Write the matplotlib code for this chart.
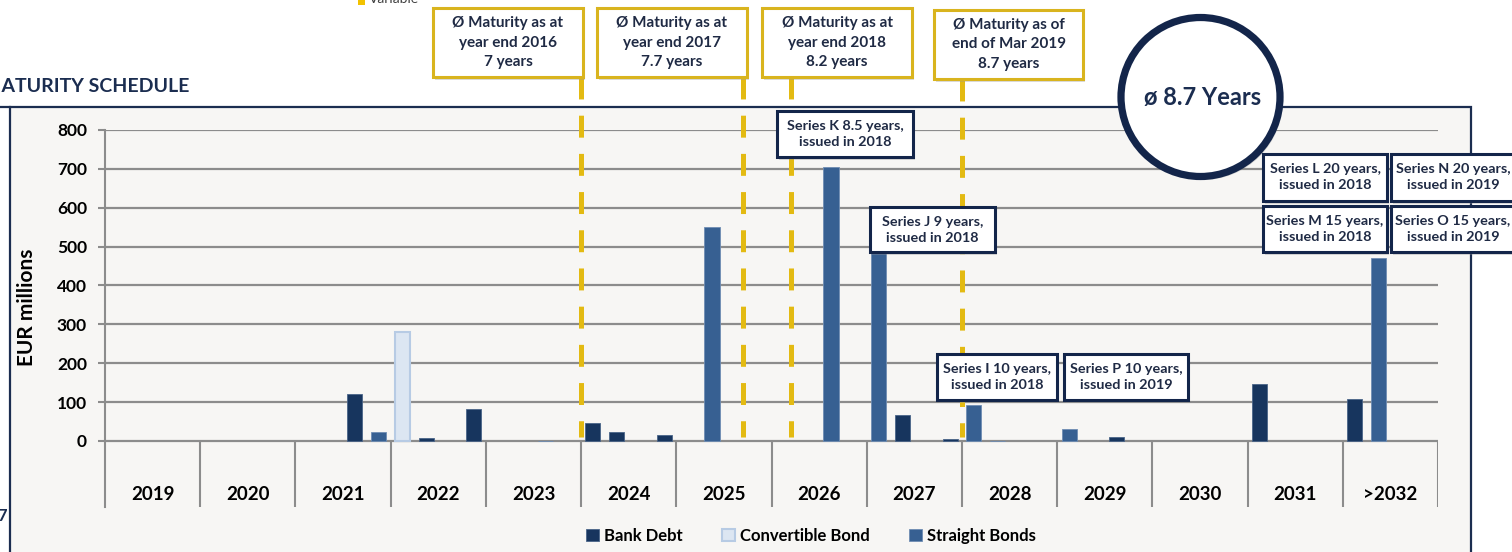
import matplotlib.pyplot as plt
import matplotlib.patches as mpatches
from matplotlib.lines import Line2D
import numpy as np

plt.rcParams['font.family'] = ['Lato', 'DejaVu Sans']
plt.rcParams['font.weight'] = 'bold'
plt.rcParams['lines.scale_dashes'] = False

W, H = 1512, 552

years = ['2019', '2020', '2021', '2022', '2023', '2024', '2025',
         '2026', '2027', '2028', '2029', '2030', '2031', '>2032']

# maturities in EUR millions, one value per quarter (4 per year)
bank_debt = [
    0, 0, 0, 0,      # 2019
    0, 0, 0, 0,      # 2020
    0, 0, 120, 0,    # 2021
    0, 8, 0, 83,     # 2022
    0, 0, 0, 0,      # 2023
    45, 22, 0, 15,   # 2024
    0, 0, 0, 0,      # 2025
    0, 0, 0, 0,      # 2026
    0, 67, 0, 5,     # 2027
    0, 0, 0, 0,      # 2028
    0, 0, 10, 0,     # 2029
    0, 0, 0, 0,      # 2030
    147, 0, 0, 0,    # 2031
    109, 0, 0, 0,    # >2032
]
convertible = [
    0, 0, 0, 0,
    0, 0, 0, 0,
    0, 0, 0, 0,
    281, 0, 0, 0,    # 2022
    0, 0, 0, 0,
    0, 0, 0, 0,
    0, 0, 0, 0,
    0, 0, 0, 0,
    0, 0, 0, 0,
    0, 0, 0, 0,
    0, 0, 0, 0,
    0, 0, 0, 0,
    0, 0, 0, 0,
    0, 0, 0, 0,
]
straight = [
    0, 0, 0, 0,
    0, 0, 0, 0,
    0, 0, 0, 24,     # 2021
    0, 0, 0, 0,
    0, 0, 1, 0,      # 2023
    0, 0, 0, 0,
    0, 550, 0, 0,    # 2025
    0, 0, 706, 0,    # 2026
    500, 0, 0, 0,    # 2027
    93, 1, 0, 0,     # 2028
    31, 0, 0, 0,     # 2029
    0, 0, 0, 0,
    0, 0, 0, 0,
    0, 470, 0, 0,    # >2032
]

avg_labels = ['Ø Maturity as at\nyear end 2016\n7 years',
              'Ø Maturity as at\nyear end 2017\n7.7 years',
              'Ø Maturity as at\nyear end 2018\n8.2 years',
              'Ø Maturity as of\nend of Mar 2019\n8.7 years']
avg_dates = [2024.0, 2025.7, 2026.2, 2028.0]

series_notes = ['Series K 8.5 years,\nissued in 2018',
                'Series J 9 years,\nissued in 2018',
                'Series I 10 years,\nissued in 2018',
                'Series P 10 years,\nissued in 2019',
                'Series L 20 years,\nissued in 2018',
                'Series N 20 years,\nissued in 2019',
                'Series M 15 years,\nissued in 2018',
                'Series O 15 years,\nissued in 2019']

NAVY = '#13254A'
TXT = '#1F2A44'
GOLD = '#D9B41E'
DASH = '#E3BA12'
GRID = '#8C8C8C'
C_BANK = '#17355E'
C_CONV = '#DCE6F2'
C_STR = '#376092'


def fx(x):
    return x / W


def fy(y):
    return 1 - y / H


def nz(v):
    v = np.array(v, dtype=float)
    return np.where(v > 0, v, np.nan)


def px_box(fig, x0, y0, x1, y1, text, edge, fs=10, ls=1.3, z=5):
    shadow = mpatches.Rectangle((fx(x0 + 2), fy(y1 + 3)), (x1 - x0) / W, (y1 - y0) / H,
                                transform=fig.transFigure, facecolor='#999999',
                                alpha=0.35, edgecolor='none', zorder=z - 0.1)
    fig.add_artist(shadow)
    rect = mpatches.Rectangle((fx(x0), fy(y1)), (x1 - x0) / W, (y1 - y0) / H,
                              transform=fig.transFigure, facecolor='white',
                              edgecolor=edge, linewidth=2.2, zorder=z)
    fig.add_artist(rect)
    fig.text(fx((x0 + x1) / 2), fy((y0 + y1) / 2), text, ha='center', va='center',
             fontsize=fs, color=TXT, linespacing=ls, zorder=z + 0.1)


fig = plt.figure(figsize=(W / 100, H / 100), dpi=100)
fig.patch.set_facecolor('white')

# panel frame
frame = mpatches.Rectangle((fx(10), fy(560)), 1461 / W, 453 / H, transform=fig.transFigure,
                           facecolor='#F7F6F4', edgecolor='#1B2D50', linewidth=1.6, zorder=-1)
fig.add_artist(frame)
fig.add_artist(Line2D([0, fx(10)], [fy(107), fy(107)], transform=fig.transFigure,
                      color='#1B2D50', lw=1.6, zorder=-1))

ax = fig.add_axes([fx(105), fy(507), 1333 / W, 377 / H])
ax.patch.set_alpha(0)

xq = np.arange(len(bank_debt)) / 4 + 0.125
bw = 0.158
b1 = ax.bar(xq, nz(bank_debt), bw, color=C_BANK, edgecolor='#4A6488', linewidth=0.6, zorder=2)
b2 = ax.bar(xq, nz(convertible), bw, color=C_CONV, edgecolor='#B7CBE4', linewidth=1.5, zorder=2)
b3 = ax.bar(xq, nz(straight), bw, color=C_STR, edgecolor='#6F8DB3', linewidth=0.6, zorder=2)

ax.set_xlim(0, len(years))
ax.set_ylim(-170, 800)
ax.set_yticks(range(0, 801, 100))
ax.set_xticks([])
ax.tick_params(axis='y', length=5, width=1.5, color=GRID, labelsize=12.5, pad=8, labelcolor='black')
ax.grid(axis='y', color=GRID, linewidth=1.6)
ax.set_axisbelow(True)
for s in ['top', 'right', 'bottom']:
    ax.spines[s].set_visible(False)
ax.spines['left'].set_color(GRID)
ax.spines['left'].set_linewidth(1.5)
ax.vlines(range(1, len(years) + 1), -170, 0, colors=GRID, linewidth=1.5)
for i, yl in enumerate(years):
    ax.text(i + 0.5, -137, yl, ha='center', va='center', fontsize=13.5, color='black')

ax.set_ylabel('EUR millions', fontsize=15, color='black', fontweight='bold')
ax.yaxis.set_label_coords(-0.051, 0.53)

fig.legend([b1, b2, b3], ['Bank Debt', 'Convertible Bond', 'Straight Bonds'],
           loc='center', bbox_to_anchor=(fx(811), fy(536)), ncol=3, frameon=False,
           fontsize=12, handlelength=0.75, handleheight=0.75, handletextpad=0.3,
           columnspacing=2.4)

# average maturity markers
ybox = [(8, 77), (8, 77), (8, 77), (10, 79)]
xbox = [(433, 583), (597, 747), (762, 912), (934, 1083)]
for d, lab, (x0, x1), (y0, y1) in zip(avg_dates, avg_labels, xbox, ybox):
    xd = 105 + (d - 2019) * 1333 / len(years)
    ln = Line2D([fx(xd), fx(xd)], [fy(y1), fy(437)], transform=fig.transFigure,
                color=DASH, lw=3.6, dashes=(15.8, 11.7), solid_capstyle='butt',
                dash_capstyle='butt', zorder=3)
    fig.add_artist(ln)
    px_box(fig, x0, y0, x1, y1, lab, GOLD, fs=11, ls=1.5)

# series notes
note_pos = [(777, 111, 913, 157), (870, 207, 995, 252), (937, 354, 1057, 400),
            (1064, 354, 1188, 400), (1263, 154, 1387, 201), (1391, 154, 1515, 201),
            (1263, 206, 1387, 252), (1391, 206, 1515, 252)]
for txt, (x0, y0, x1, y1) in zip(series_notes, note_pos):
    px_box(fig, x0, y0, x1, y1, txt, NAVY, fs=10.4, ls=1.4, z=6)

# average badge
circ_sh = mpatches.Ellipse((fx(1203), fy(100)), 160 / W, 160 / H, transform=fig.transFigure,
                           facecolor='#888888', alpha=0.3, edgecolor='none', zorder=3.9)
fig.add_artist(circ_sh)
circ = mpatches.Ellipse((fx(1200.5), fy(97)), 159 / W, 159 / H, transform=fig.transFigure,
                        facecolor='white', edgecolor=NAVY, linewidth=5.2, zorder=4)
fig.add_artist(circ)
fig.text(fx(1203), fy(98), 'ø 8.7 Years', ha='center', va='center', fontsize=17,
         color='#1B2D50', zorder=4.2)

# cropped slide elements
fig.text(fx(-17), fy(86), 'MATURITY SCHEDULE', ha='left', va='center', fontsize=14,
         color='#1B2D50')
fig.add_artist(mpatches.Rectangle((fx(358), fy(5)), 7 / W, 8 / H, transform=fig.transFigure,
                                  facecolor='#F2C200', edgecolor='none'))
fig.text(fx(369), fy(-1), 'Variable', ha='left', va='center', fontsize=10,
         color='#404040', fontweight='normal')
fig.text(fx(7), fy(516), '7', ha='right', va='center', fontsize=12, color='#1B2D50')

fig.savefig('out.png', dpi=100)
